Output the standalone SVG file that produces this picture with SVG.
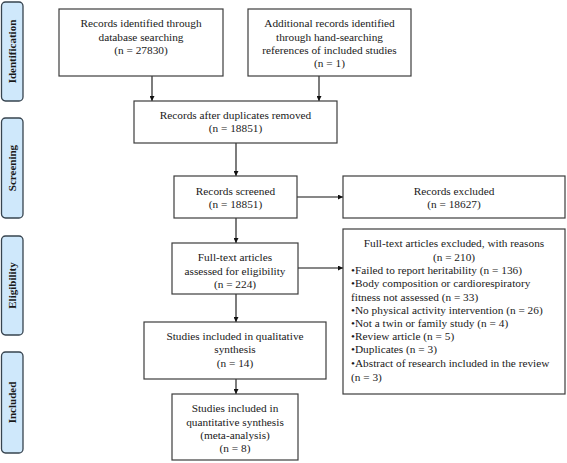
<svg xmlns="http://www.w3.org/2000/svg" width="567" height="463" viewBox="0 0 567 463">
<defs>
<marker id="ah" viewBox="0 0 10 10" refX="10" refY="5" markerWidth="5" markerHeight="5" orient="auto" markerUnits="userSpaceOnUse">
<path d="M0,0 L10,5 L0,10 z" fill="#111"/>
</marker>
<style>
.box{fill:#fff;stroke:#3c3c3c;stroke-width:1.2}
.tab{fill:#cfe8fb;stroke:#37444f;stroke-width:1.3}
.t{font-family:"Liberation Serif","Times New Roman",serif;font-size:11.3px;fill:#1a1a1a}
.c{text-anchor:middle}
.tb{font-family:"Liberation Serif","Times New Roman",serif;font-size:11px;font-weight:bold;fill:#1a1a1a;text-anchor:middle}
.cn{stroke:#111;stroke-width:1.1;fill:none;marker-end:url(#ah)}
</style>
</defs>
<rect width="567" height="463" fill="#fff"/>

<g id="tab-identification"><rect class="tab" x="1.5" y="2" width="21.5" height="99" rx="4"/><text class="tb" transform="translate(16,51.5) rotate(-90)">Identification</text></g>
<g id="tab-screening"><rect class="tab" x="1.5" y="118" width="21.5" height="100" rx="4"/><text class="tb" transform="translate(16,168) rotate(-90)">Screening</text></g>
<g id="tab-eligibility"><rect class="tab" x="1.5" y="236" width="21.5" height="99" rx="4"/><text class="tb" transform="translate(16,285.5) rotate(-90)">Eligibility</text></g>
<g id="tab-included"><rect class="tab" x="1.5" y="352" width="21.5" height="101" rx="4"/><text class="tb" transform="translate(16,402.5) rotate(-90)">Included</text></g>

<g id="connectors">
<line class="cn" x1="152" y1="76" x2="152" y2="101"/>
<line class="cn" x1="319" y1="76" x2="319" y2="101"/>
<line class="cn" x1="236" y1="143" x2="236" y2="176"/>
<line class="cn" x1="297" y1="197" x2="343" y2="197"/>
<line class="cn" x1="236" y1="218" x2="236" y2="243"/>
<line class="cn" x1="298" y1="268" x2="343" y2="268"/>
<line class="cn" x1="236" y1="294" x2="236" y2="322"/>
<line class="cn" x1="236" y1="379" x2="236" y2="394"/>
</g>

<g id="n-db"><rect class="box" x="59" y="9" width="164" height="67"/>
<text class="t c" x="141" y="27">Records identified through</text>
<text class="t c" x="141" y="41">database searching</text>
<text class="t c" x="141" y="54">(n = 27830)</text></g>

<g id="n-hand"><rect class="box" x="248" y="9" width="163" height="67"/>
<text class="t c" x="329.5" y="27">Additional records identified</text>
<text class="t c" x="329.5" y="40.5">through hand-searching</text>
<text class="t c" x="329.5" y="54">references of included studies</text>
<text class="t c" x="329.5" y="67">(n = 1)</text></g>

<g id="n-dup"><rect class="box" x="134" y="101" width="203" height="42"/>
<text class="t c" x="235.5" y="119">Records after duplicates removed</text>
<text class="t c" x="235.5" y="132">(n = 18851)</text></g>

<g id="n-screened"><rect class="box" x="174" y="176" width="123" height="42"/>
<text class="t c" x="235.5" y="195">Records screened</text>
<text class="t c" x="235.5" y="208">(n = 18851)</text></g>

<g id="n-excluded"><rect class="box" x="343" y="176" width="222" height="42"/>
<text class="t c" x="454" y="195">Records excluded</text>
<text class="t c" x="454" y="208">(n = 18627)</text></g>

<g id="n-fulltext"><rect class="box" x="172" y="243" width="126" height="51"/>
<text class="t c" x="235" y="261">Full-text articles</text>
<text class="t c" x="235" y="275">assessed for eligibility</text>
<text class="t c" x="235" y="288">(n = 224)</text></g>

<g id="n-reasons"><rect class="box" x="343" y="229" width="222" height="165"/>
<text class="t c" x="454" y="247">Full-text articles excluded, with reasons</text>
<text class="t c" x="454" y="261">(n = 210)</text>
<text class="t" x="351" y="273.5">•Failed to report heritability (n = 136)</text>
<text class="t" x="351" y="287">•Body composition or cardiorespiratory</text>
<text class="t" x="351" y="300.5">fitness not assessed (n = 33)</text>
<text class="t" x="351" y="314">•No physical activity intervention (n = 26)</text>
<text class="t" x="351" y="327">•Not a twin or family study (n = 4)</text>
<text class="t" x="351" y="340">•Review article (n = 5)</text>
<text class="t" x="351" y="353">•Duplicates (n = 3)</text>
<text class="t" x="351" y="367">•Abstract of research included in the review</text>
<text class="t" x="351" y="381">(n = 3)</text></g>

<g id="n-qual"><rect class="box" x="144" y="322" width="182" height="57"/>
<text class="t c" x="235" y="340">Studies included in qualitative</text>
<text class="t c" x="235" y="353">synthesis</text>
<text class="t c" x="235" y="367">(n = 14)</text></g>

<g id="n-quant"><rect class="box" x="172" y="394" width="126" height="66"/>
<text class="t c" x="235" y="412">Studies included in</text>
<text class="t c" x="235" y="426">quantitative synthesis</text>
<text class="t c" x="235" y="439">(meta-analysis)</text>
<text class="t c" x="235" y="452">(n = 8)</text></g>
</svg>
